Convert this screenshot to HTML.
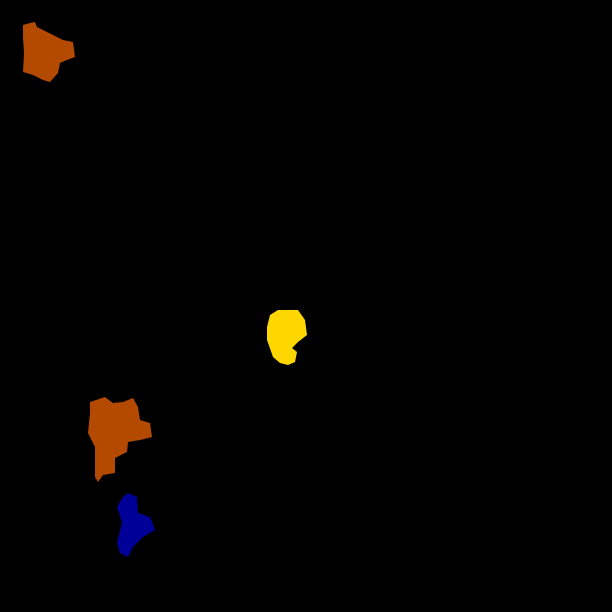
<!DOCTYPE html>
<html><head><style>html,body{margin:0;padding:0;background:#000;}svg{display:block}</style></head>
<body><svg width="612" height="612" viewBox="0 0 612 612" xmlns="http://www.w3.org/2000/svg">
<rect width="612" height="612" fill="#000"/>
<polygon fill="#b34a00" points="23,37 23,25 30,23 35,22 37,27 43,30 53,35 63,40 73,42 75,57 67,60 60,63 58,73 50,82 43,80 33,75 23,72 24,53"/>
<polygon fill="#b34a00" points="90,402 105,397 113,403 123,402 133,398 138,407 140,420 150,423 152,437 140,440 128,442 127,452 115,458 115,473 103,475 98,482 95,477 95,447 88,433 90,413"/>
<polygon fill="#000099" points="123,497 128,493 137,497 138,513 150,517 155,530 143,537 133,547 128,557 120,553 117,543 122,522 117,507"/>
<polygon fill="#ffd700" points="270,315 278,310 298,310 305,320 307,335 298,342 292,348 297,352 295,362 288,365 280,363 273,357 267,340 267,327"/>
</svg></body></html>
